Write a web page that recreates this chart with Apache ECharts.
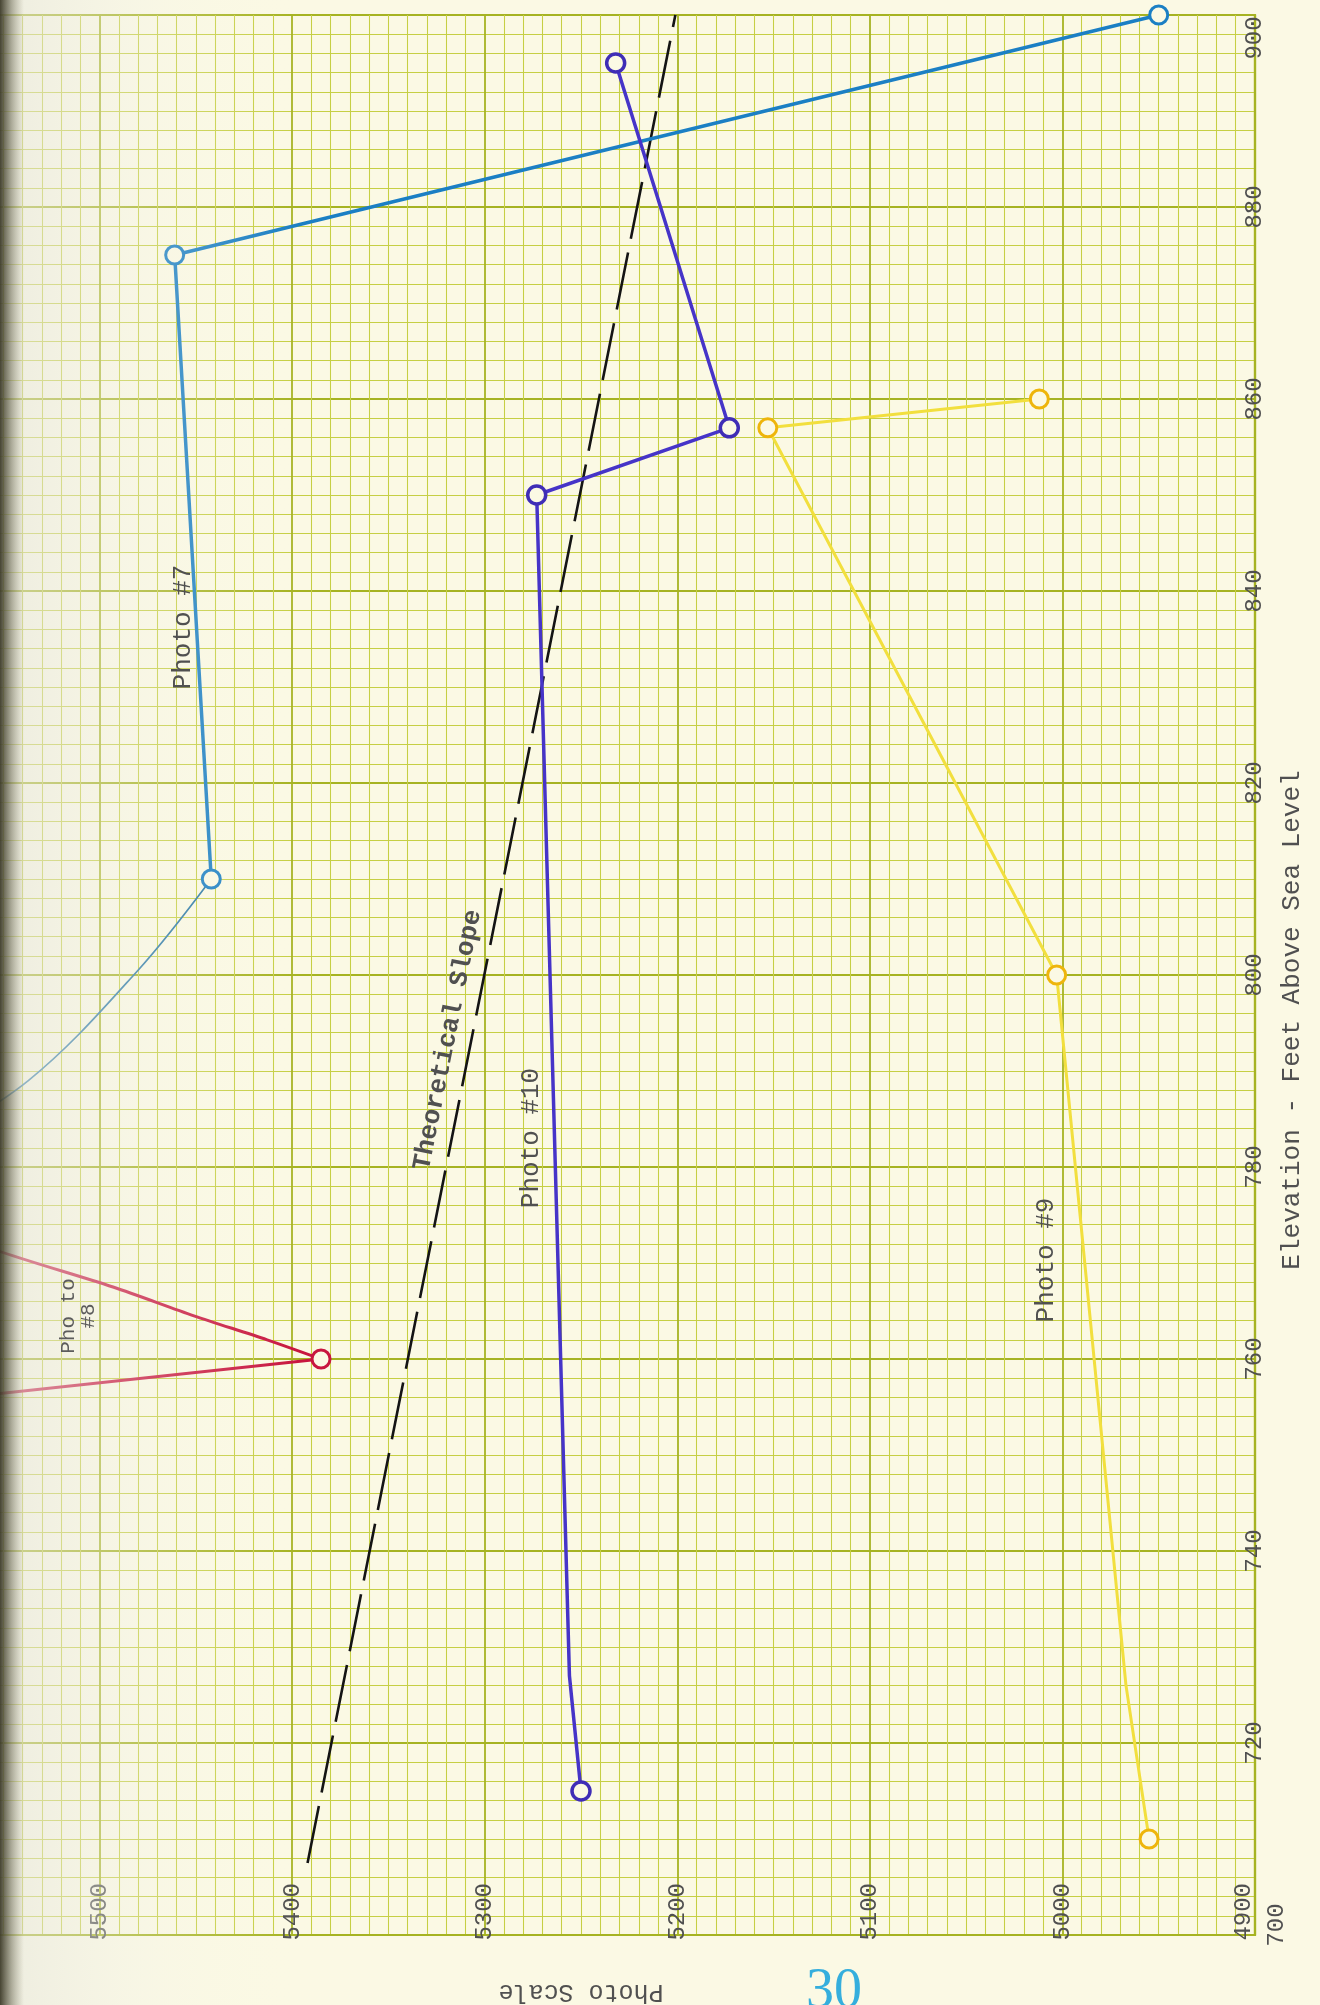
<!DOCTYPE html>
<html>
<head>
<meta charset="utf-8">
<script src="https://cdn.jsdelivr.net/npm/echarts@6/dist/echarts.min.js"></script>
<style>
  html, body { margin: 0; padding: 0; background: #fbf9e4; }
  #chart { width: 1320px; height: 2005px; }
</style>
</head>
<body>
<div id="chart"></div>
<script>
// Axis ticks: photo scale runs across, elevation (feet above sea level) runs up
const scaleTicks = [4900, 5000, 5100, 5200, 5300, 5400, 5500, 5600];
const elevTicks = [700, 720, 740, 760, 780, 800, 820, 840, 860, 880, 900];

// Observations, each as [photo scale, elevation]
const photo7 = [[4950, 900], [5461, 875], [5442, 810]];
const photo7Tail = [[5442, 810], [5480, 800.5], [5537, 789], [5600, 781]];
const photo8Upper = [[5598, 775], [5556, 771.5], [5493, 767.5], [5451, 764.5], [5413, 762], [5385, 760]];
const photo8Lower = [[5385, 760], [5570, 756]];
const photo10 = [[5250, 715], [5256, 727], [5273, 850], [5173, 857], [5232, 895]];
const photo9 = [[4955, 710], [4967, 726], [5003, 800], [5153, 857], [5012, 860]];
const theoretical = [[5392, 707.5], [5201, 900]];

// Vertices where the pencil line bends without a plotted observation
const photo10Bends = [1];
const photo9Bends = [1];

const PAPER = '#fbf9e4';
const INK = '#505050';
const MONO = '"Liberation Mono", "DejaVu Sans Mono", monospace';
const MINOR = '#c6cf44';
const MAJOR = '#a6b322';

const BLUE = '#1b7fc4';
const CRIMSON = '#c8163f';
const VIOLET = '#4634c8';
const YELLOW = '#f2df3e';
const AMBER = '#eeb50c';

function withBends(points, bends) {
  return points.map((p, i) => bends.includes(i) ? { value: p, symbol: 'none' } : { value: p });
}

const labelFont = { fontFamily: MONO, fontSize: 24, color: INK };

const chart = echarts.init(document.getElementById('chart'), null, { renderer: 'canvas' });

const option = {
  animation: false,
  backgroundColor: PAPER,
  grid: {
    left: -93, right: 65, top: 15, bottom: 70,
    containLabel: false,
    outerBoundsMode: 'none',
    show: true, borderColor: MAJOR, borderWidth: 2.2
  },
  xAxis: {
    type: 'value',
    inverse: true,
    min: scaleTicks[0],
    max: scaleTicks[scaleTicks.length - 1],
    interval: scaleTicks[1] - scaleTicks[0],
    position: 'bottom',
    name: 'Photo Scale',
    nameLocation: 'middle',
    nameRotate: 180,
    nameGap: 44,
    nameMoveOverlap: false,
    nameTextStyle: { fontFamily: MONO, fontSize: 25, color: INK },
    axisLine: { show: true, onZero: false, lineStyle: { color: MAJOR, width: 2.2 } },
    axisTick: { show: false },
    axisLabel: Object.assign({
      rotate: 90, margin: -52, showMinLabel: true, showMaxLabel: true,
      // the corner label sits a little left of its line to clear the elevation scale
      formatter: v => v === scaleTicks[0] ? '{corner|' + v + '}' : String(v),
      rich: { corner: Object.assign({ padding: [0, 0, 22, 0] }, labelFont) }
    }, labelFont),
    splitLine: { show: true, lineStyle: { color: MAJOR, width: 1.8 } },
    minorTick: { show: false, splitNumber: 10 },
    minorSplitLine: { show: true, lineStyle: { color: MINOR, width: 1.05 } }
  },
  yAxis: {
    type: 'value',
    min: elevTicks[0],
    max: elevTicks[elevTicks.length - 1],
    interval: elevTicks[1] - elevTicks[0],
    position: 'right',
    name: 'Elevation - Feet Above Sea Level',
    nameLocation: 'middle',
    nameRotate: 90,
    nameGap: 24,
    nameMoveOverlap: false,
    nameTextStyle: { fontFamily: MONO, fontSize: 26, color: INK, padding: [0, 90, 0, 0] },
    axisLine: { show: true, onZero: false, lineStyle: { color: MAJOR, width: 2.2 } },
    axisTick: { show: false },
    axisLabel: Object.assign({
      rotate: 90, margin: -12, showMinLabel: true, showMaxLabel: true,
      formatter: v => v === elevTicks[0] ? '{low|' + v + '}'
        : v === elevTicks[elevTicks.length - 1] ? '{high|' + v + '}' : String(v),
      rich: {
        low: Object.assign({ padding: [22, 0, 0, 20] }, labelFont),
        high: Object.assign({ padding: [0, 46, 0, 0] }, labelFont)
      }
    }, labelFont),
    splitLine: { show: true, lineStyle: { color: MAJOR, width: 1.8 } },
    minorTick: { show: false, splitNumber: 10 },
    minorSplitLine: { show: true, lineStyle: { color: MINOR, width: 1.05 } }
  },
  series: [
    {
      name: 'Theoretical Slope', type: 'line', data: theoretical, symbol: 'none', z: 3,
      lineStyle: { color: '#141414', width: 2.6, type: [58, 14] }
    },
    {
      name: 'Photo #7', type: 'line', data: photo7, z: 4,
      symbol: 'circle', symbolSize: 18, showAllSymbol: true,
      itemStyle: { color: PAPER, borderColor: BLUE, borderWidth: 3 },
      lineStyle: { color: BLUE, width: 3.5 }
    },
    {
      name: 'Photo #7 trace', type: 'line', smooth: 0.35, z: 3,
      data: photo7Tail.map((p, i) => i === photo7Tail.length - 1
        ? { value: p, symbol: 'circle', symbolSize: [8, 16] } : { value: p, symbol: 'none' }),
      itemStyle: { color: PAPER, borderColor: '#2a78a6', borderWidth: 1.5 },
      lineStyle: { color: '#2a78a6', width: 1.7 }
    },
    {
      name: 'Photo #8', type: 'line', smooth: 0.3, z: 4,
      data: photo8Upper.map((p, i) => i === 0
        ? { value: p, symbol: 'circle', symbolSize: [10, 16] } : { value: p, symbol: 'none' }),
      itemStyle: { color: '#f3eedc', borderColor: '#8a3a40', borderWidth: 1.5 },
      lineStyle: { color: CRIMSON, width: 3 }
    },
    {
      name: 'Photo #8 lower', type: 'line', z: 5,
      data: photo8Lower.map((p, i) => i === 0
        ? { value: p, symbol: 'circle', symbolSize: 18,
            itemStyle: { color: PAPER, borderColor: CRIMSON, borderWidth: 3 } }
        : { value: p, symbol: 'circle', symbolSize: [10, 16] }),
      itemStyle: { color: '#f3eedc', borderColor: '#8a3a40', borderWidth: 1.5 },
      lineStyle: { color: CRIMSON, width: 3 }
    },
    {
      name: 'Photo #10', type: 'line', data: withBends(photo10, photo10Bends), z: 4,
      symbol: 'circle', symbolSize: 18, showAllSymbol: true,
      itemStyle: { color: PAPER, borderColor: '#3f2db6', borderWidth: 3.5 },
      lineStyle: { color: VIOLET, width: 3.5 }
    },
    {
      name: 'Photo #9', type: 'line', data: withBends(photo9, photo9Bends), z: 4,
      symbol: 'circle', symbolSize: 18, showAllSymbol: true,
      itemStyle: { color: PAPER, borderColor: AMBER, borderWidth: 3 },
      lineStyle: { color: YELLOW, width: 3 }
    }
  ],
  graphic: [
    // light wash and dark shadow along the bound edge of the sheet
    { type: 'rect', silent: true, z: 50, shape: { x: 0, y: 0, width: 300, height: 2005 },
      style: { fill: new echarts.graphic.LinearGradient(0, 0, 1, 0, [
        { offset: 0, color: 'rgba(228,228,220,0.6)' },
        { offset: 0.5, color: 'rgba(240,240,232,0.25)' },
        { offset: 1, color: 'rgba(251,249,228,0)' }]) } },
    { type: 'rect', silent: true, z: 51, shape: { x: 0, y: 0, width: 24, height: 2005 },
      style: { fill: new echarts.graphic.LinearGradient(0, 0, 1, 0, [
        { offset: 0, color: 'rgba(52,50,32,0.9)' },
        { offset: 0.5, color: 'rgba(80,78,55,0.4)' },
        { offset: 1, color: 'rgba(120,118,90,0)' }]) } },
    // typed annotations beside each trace
    { type: 'text', x: 183, y: 627, rotation: Math.PI / 2, z: 60,
      style: { text: 'Photo #7', font: '26px ' + MONO, fill: INK, align: 'center', verticalAlign: 'middle' } },
    { type: 'text', x: 78, y: 1316, rotation: Math.PI / 2, z: 60,
      style: { text: 'Pho to\n#8', font: '21px ' + MONO, fill: '#5c5c5c', align: 'center', verticalAlign: 'middle', lineHeight: 20 } },
    // typed along the dashed line, so it shares its lean
    { type: 'text', x: 448, y: 1040, rotation: 78.7 * Math.PI / 180, z: 60,
      style: { text: 'Theoretical Slope', font: 'bold 26px ' + MONO, fill: INK, align: 'center', verticalAlign: 'middle' } },
    { type: 'text', x: 531, y: 1138, rotation: Math.PI / 2, z: 60,
      style: { text: 'Photo #10', font: '26px ' + MONO, fill: INK, align: 'center', verticalAlign: 'middle' } },
    { type: 'text', x: 1046, y: 1260, rotation: Math.PI / 2, z: 60,
      style: { text: 'Photo #9', font: '26px ' + MONO, fill: INK, align: 'center', verticalAlign: 'middle' } },
    // page number
    { type: 'text', x: 834, y: 1964, z: 60,
      style: { text: '30', font: '56px "Liberation Serif", serif', fill: '#35aedd', align: 'center', verticalAlign: 'top' } }
  ]
};

chart.setOption(option);
</script>
</body>
</html>
